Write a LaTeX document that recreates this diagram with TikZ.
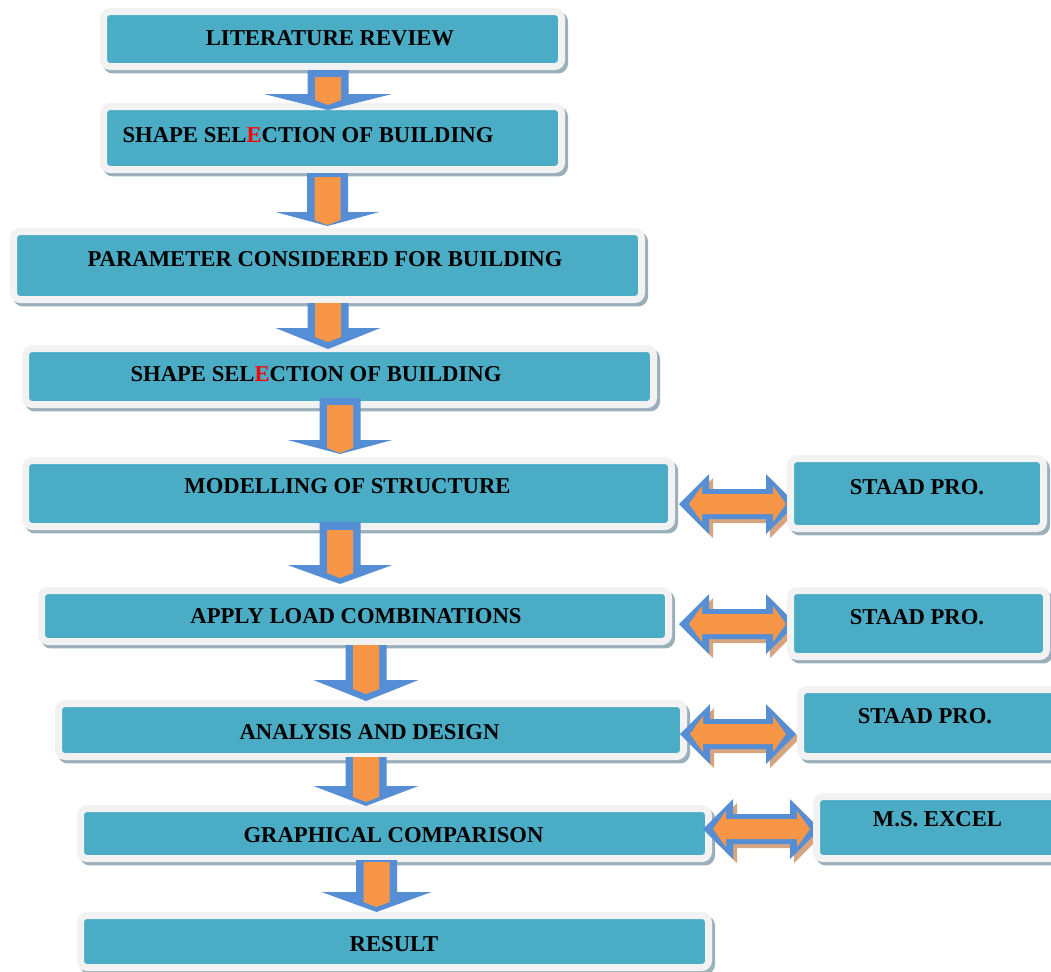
\documentclass[tikz,border=0pt]{standalone}
\usepackage{fontspec}
\setmainfont{Liberation Serif}
\usetikzlibrary{fit}
\definecolor{boxteal}{HTML}{4BACC6}
\definecolor{boxrim}{HTML}{F2F2F2}
\definecolor{boxshadow}{HTML}{9AAFB9}
\definecolor{arblue}{HTML}{558ED5}
\definecolor{arorange}{HTML}{F79646}
\definecolor{artan}{HTML}{D6A47F}
\tikzset{
  box/.style={rounded corners=5pt, fill=boxteal, draw=boxrim, line width=5.25pt, inner sep=0pt,
    preaction={fill=boxshadow, draw=boxshadow, transform canvas={xshift=2.25pt,yshift=-2.6pt}}},
  lbl/.style={font=\fontsize{17}{20}\selectfont\bfseries, text=black, inner sep=0pt}
}
\newcommand\dnarrow[7]{%
  \fill[arblue] (#1-20.5,#2) -- (#1+20.5,#2) -- (#1+20.5,#3) -- (#1+#5,#3) -- (#1,#4) -- (#1-#5,#3) -- (#1-20.5,#3) -- cycle;
  \fill[arorange] (#1-13,#6) -- (#1+13,#6) -- (#1+13,#7) -- (#1,#7+5) -- (#1-13,#7) -- cycle;
}
\newcommand\dblarrow[3]{%
  \fill[artan,shift={(4,4)}] (#1,#3) -- (#1+30,#3-30) -- (#1+30,#3-15) -- (#2-30,#3-15) -- (#2-30,#3-30) -- (#2,#3) -- (#2-30,#3+30) -- (#2-30,#3+15) -- (#1+30,#3+15) -- (#1+30,#3+30) -- cycle;
  \fill[arblue] (#1,#3) -- (#1+30,#3-30) -- (#1+30,#3-15) -- (#2-30,#3-15) -- (#2-30,#3-30) -- (#2,#3) -- (#2-30,#3+30) -- (#2-30,#3+15) -- (#1+30,#3+15) -- (#1+30,#3+30) -- cycle;
  \fill[arorange] (#1+10,#3) -- (#1+23,#3-18) -- (#1+23,#3-10) -- (#2-23,#3-10) -- (#2-23,#3-18) -- (#2-10,#3) -- (#2-23,#3+18) -- (#2-23,#3+10) -- (#1+23,#3+10) -- (#1+23,#3+18) -- cycle;
}
\begin{document}
\begin{tikzpicture}[x=0.75pt,y=-0.75pt]
\useasboundingbox (0,0) rectangle (1051,972);
% main boxes
\node[box, fit={(103.5,11.5)(561.5,66.5)}] (b1) {};
\node[box, fit={(103.5,106.5)(561.5,169.5)}] (b2) {};
\node[box, fit={(13.5,231.5)(641.5,299.5)}] (b3) {};
\node[box, fit={(25.5,348.5)(653.5,404.5)}] (b4) {};
\node[box, fit={(25.5,460.5)(671.5,526.5)}] (b5) {};
\node[box, fit={(41.5,590.5)(668.5,641.5)}] (b6) {};
\node[box, fit={(58.5,703.5)(683.5,756.5)}] (b7) {};
\node[box, fit={(80.5,808.5)(708.5,858.5)}] (b8) {};
\node[box, fit={(80.5,915.5)(708.5,967.5)}] (b9) {};
% labels
\node[lbl] (t1) at (330,38) {LITERATURE REVIEW};
\node[lbl] (t2) at (308,135) {SHAPE SEL\textcolor{red}{E}CTION OF BUILDING};
\node[lbl] (t3) at (325,259) {PARAMETER CONSIDERED FOR BUILDING};
\node[lbl] (t4) at (316,374) {SHAPE SEL\textcolor{red}{E}CTION OF BUILDING};
\node[lbl] (t5) at (347.5,486) {MODELLING OF STRUCTURE};
\node[lbl] (t6) at (356,616) {APPLY LOAD COMBINATIONS};
\node[lbl] (t7) at (369.5,732) {ANALYSIS AND DESIGN};
\node[lbl] (t8) at (393.5,835) {GRAPHICAL COMPARISON};
\node[lbl] (t9) at (394,944) {RESULT};
% down arrows
\dnarrow{328}{70}{94}{110}{64}{77}{100}
\dnarrow{327.5}{173}{212}{226}{52}{177}{220}
\dnarrow{328}{303}{328}{349}{52.5}{303}{337}
\dnarrow{340}{398}{440}{454}{52.5}{405}{448}
\dnarrow{340}{522}{565}{584}{52.5}{530}{573}
\dnarrow{366}{645}{680}{701}{52.5}{645}{689}
\dnarrow{366}{757}{786}{806}{52.5}{757}{797}
\dnarrow{376.5}{860}{892}{912}{55}{862}{902}
% double arrows
\dblarrow{679}{796}{504}
\dblarrow{679}{796}{624}
\dblarrow{680}{796}{734}
\dblarrow{703}{820}{829}
% side boxes
\node[box, fit={(790.5,458.5)(1043.5,528.5)}] (s1) {};
\node[box, fit={(790.5,590.5)(1046.5,656.5)}] (s2) {};
\node[box, fit={(800.5,689.5)(1062,756.5)}] (s3) {};
\node[box, fit={(816.5,796.5)(1062,858.5)}] (s4) {};
\node[lbl] (u1) at (917,487) {STAAD PRO.};
\node[lbl] (u2) at (917,617) {STAAD PRO.};
\node[lbl] (u3) at (925,716) {STAAD PRO.};
\node[lbl] (u4) at (937.5,819) {M.S. EXCEL};
\end{tikzpicture}
\end{document}
